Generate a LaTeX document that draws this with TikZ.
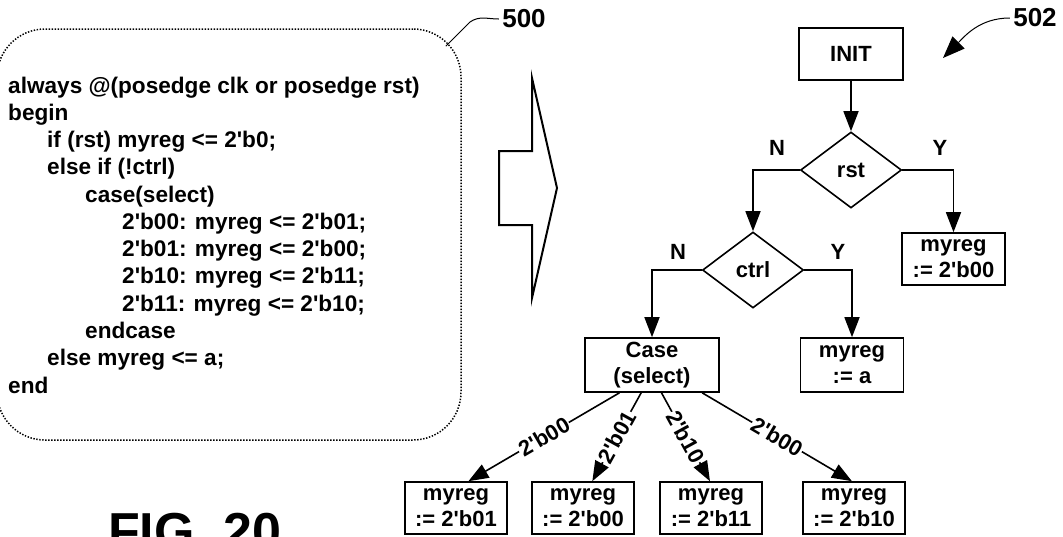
\documentclass[tikz,border=0pt]{standalone}
\usepackage{fontspec}
\setmainfont{Liberation Sans}[Ligatures=TeXOff]
\usetikzlibrary{arrows.meta,shapes.geometric,calc}

\begin{document}
\begin{tikzpicture}[x=1pt,y=-1pt,
  every node/.style={font=\fontsize{22}{26}\selectfont\bfseries},
  codeline/.style={anchor=base west,inner sep=0pt,font=\fontsize{22.6}{27}\selectfont\bfseries},
  procbox/.style={draw,line width=1.6pt,minimum width=102pt,minimum height=52pt,
                  inner sep=0pt,align=center},
  decide/.style={draw,diamond,line width=1.6pt,minimum width=101pt,
                 minimum height=76pt,inner sep=0pt},
  flow/.style={line width=1.6pt,-{Triangle[length=20pt,width=15pt]}},
  edgelabel/.style={sloped,fill=white,inner sep=1pt,pos=0.5},
  leader/.style={line width=1pt},
  refnum/.style={font=\fontsize{26}{26}\selectfont\bfseries}
]
\useasboundingbox (0,0) rectangle (1063,536);

% source listing in a dotted rounded frame
\node[draw,line width=1.5pt,dash pattern=on 1.4pt off 1.6pt,rounded corners=48pt,
      minimum width=464pt,minimum height=411pt,inner sep=0pt] (listing) at (229,234.5) {};
\node[codeline] (l1)  at (8,93)    {always @(posedge clk or posedge rst)};
\node[codeline] (l2)  at (8,120.3) {begin};
\node[codeline] (l3)  at (47,147.5) {if (rst) myreg <= 2'b0;};
\node[codeline] (l4)  at (47,174.8) {else if (!ctrl)};
\node[codeline] (l5)  at (85,202.1) {case(select)};
\node[codeline] (l6)  at (122,229.4) {2'b00: myreg <= 2'b01;};
\node[codeline] (l7)  at (122,256.6) {2'b01: myreg <= 2'b00;};
\node[codeline] (l8)  at (122,283.9) {2'b10: myreg <= 2'b11;};
\node[codeline] (l9)  at (122,311.2) {2'b11: myreg <= 2'b10;};
\node[codeline] (l10) at (85,338.5) {endcase};
\node[codeline] (l11) at (47,365.7) {else myreg <= a;};
\node[codeline] (l12) at (8,393)   {end};

% reference numeral for the listing
\node[refnum] (n500) at (524,19) {500};
\coordinate (p500) at ($(listing.north east)+(-16,18)$);
\draw[leader] (p500) -- (470,22) to[out=35,in=180] (n500.west);

% block arrow: listing is translated into the flow graph
\draw[line width=2pt,line join=miter] (499,151) -- (532,151) -- (532,78) -- (557,188)
  -- (532,298) -- (532,225) -- (499,225) -- cycle;

% flow graph
\node[procbox,minimum width=104pt] (init) at (851,54) {INIT};
\node[decide] (rst) at (851,170) {rst};
\node[procbox,minimum width=103pt] (set00) at (953.5,259) {myreg\\:= 2'b00};
\node[decide] (ctrl) at (753,270) {ctrl};
\node[procbox,minimum width=134pt,minimum height=54pt] (case) at (652,365) {Case\\(select)};
\node[procbox,minimum width=103pt,minimum height=54pt] (seta) at (852,365) {myreg\\:= a};
\node[procbox] (b1) at (456,508) {myreg\\:= 2'b01};
\node[procbox] (b2) at (583,508) {myreg\\:= 2'b00};
\node[procbox] (b3) at (711,508) {myreg\\:= 2'b11};
\node[procbox] (b4) at (854,508) {myreg\\:= 2'b10};

\node (rn) at (777,148) {N};
\node (ry) at (940,148) {Y};
\node (cn) at (678,252) {N};
\node (cy) at (838,252) {Y};

\draw[flow] (init) -- (rst);
\draw[flow] (rst.west) -| (ctrl.north);
\draw[flow] (rst.east) -| (set00.north);
\draw[flow] (ctrl.west) -| (case.north);
\draw[flow] (ctrl.east) -| (seta.north);

\draw[flow] ($(case.south west)!0.26!(case.south east)$) -- node[edgelabel] {2'b00}
  ($(b1.north west)!0.62!(b1.north east)$);
\draw[flow] ($(case.south west)!0.42!(case.south east)$) -- node[edgelabel] {2'b01}
  ($(b2.north west)!0.59!(b2.north east)$);
\draw[flow] ($(case.south west)!0.57!(case.south east)$) -- node[edgelabel] {2'b10}
  ($(b3.north west)!0.49!(b3.north east)$);
\draw[flow] ($(case.south west)!0.87!(case.south east)$) -- node[edgelabel] {2'b00}
  ($(b4.north west)!0.48!(b4.north east)$);

% reference numeral for the flow graph
\node[refnum] (n502) at (1035,18) {502};
\coordinate (t502) at (943,58);
\draw[leader,-{Triangle[length=22pt,width=17pt]}] (n502.west) to[out=180,in=45] (t502);

% figure caption, partly below the page edge
\node[anchor=base west,inner sep=0pt,font=\fontsize{52}{52}\selectfont\bfseries] (fig)
  at (108,549) {FIG. 20};
\end{tikzpicture}
\end{document}
